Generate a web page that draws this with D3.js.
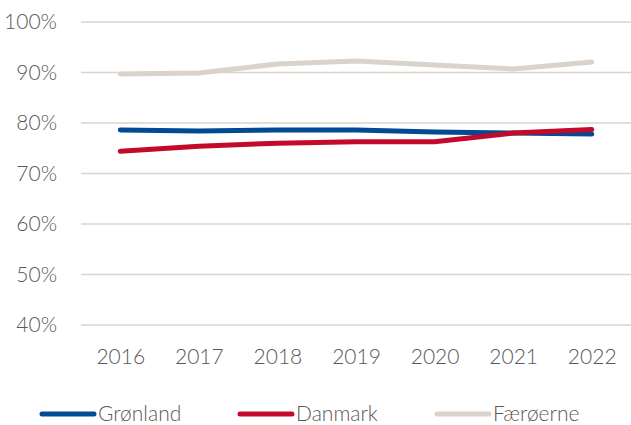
<!DOCTYPE html>
<html>
<head>
<meta charset="utf-8">
<script src="https://cdn.jsdelivr.net/npm/d3@7"></script>
<style>
  body { margin: 0; background: #fff; }
  text { font-family: Lato, "Open Sans", sans-serif; font-weight: 300; fill: #595959; }
</style>
</head>
<body>
<div id="chart"></div>
<script>
// data
var years = ["2016", "2017", "2018", "2019", "2020", "2021", "2022"];
var gronland  = [78.6, 78.4, 78.6, 78.6, 78.2, 78.0, 77.8];
var danmark   = [74.4, 75.4, 76.0, 76.3, 76.3, 78.0, 78.7];
var faeroerne = [89.7, 89.9, 91.7, 92.3, 91.5, 90.7, 92.1];
var yTicks = [40, 50, 60, 70, 80, 90, 100];

var series = [
  {name: "Grønland", values: gronland, color: "#004b93"},
  {name: "Danmark", values: danmark, color: "#c30a2b"},
  {name: "Færøerne", values: faeroerne, color: "#d9d3cb"}
];
// draw order: light line at back
var drawOrder = [series[2], series[0], series[1]];

var W = 631, H = 425;
var margin = {top: 22, right: 0, bottom: 100, left: 81};
var width = W - margin.left - margin.right,
    height = H - margin.top - margin.bottom;

var svg = d3.select("#chart").append("svg")
    .attr("width", W)
    .attr("height", H);
var g = svg.append("g")
    .attr("transform", "translate(" + margin.left + "," + margin.top + ")");

var x = d3.scalePoint()
    .domain(years)
    .range([0, width])
    .padding(0.5);

var y = d3.scaleLinear()
    .domain([40, 100])
    .range([height, 0]);

// gridlines
g.selectAll(".grid")
  .data(yTicks)
  .enter()
  .append("line")
    .attr("x1", 0)
    .attr("x2", width)
    .attr("y1", function(d) { return y(d); })
    .attr("y2", function(d) { return y(d); })
    .attr("stroke", "#d9d4cc")
    .attr("stroke-width", 1.5);

// y axis labels
var yAxis = g.append("g")
  .call(d3.axisLeft(y).tickValues(yTicks).tickSize(0).tickPadding(24).tickFormat(function(d) { return d + "%"; }));
yAxis.select(".domain").remove();
yAxis.selectAll("text").style("font-size", "21px").attr("font-family", null);

// x axis labels
var xAxis = g.append("g")
  .attr("transform", "translate(0," + height + ")")
  .call(d3.axisBottom(x).tickSize(0).tickPadding(24));
xAxis.select(".domain").remove();
xAxis.selectAll("text").style("font-size", "21px").attr("font-family", null);

// lines
var line = d3.line()
  .x(function(d, i) { return x(years[i]); })
  .y(function(d) { return y(d); });

g.selectAll(".series")
  .data(drawOrder)
  .enter()
  .append("path")
    .attr("fill", "none")
    .attr("stroke", function(d) { return d.color; })
    .attr("stroke-width", 5)
    .attr("stroke-linecap", "round")
    .attr("stroke-linejoin", "round")
    .attr("d", function(d) { return line(d.values); });

// legend
var legendX = [40, 238, 435];
var legend = svg.selectAll(".legend")
  .data(series)
  .enter()
  .append("g")
    .attr("transform", function(d, i) { return "translate(" + legendX[i] + ",414)"; });

legend.append("line")
  .attr("x1", 2).attr("x2", 54)
  .attr("y1", 0).attr("y2", 0)
  .attr("stroke", function(d) { return d.color; })
  .attr("stroke-width", 5)
  .attr("stroke-linecap", "round");

legend.append("text")
  .attr("x", 58)
  .attr("y", 0)
  .attr("dy", "0.35em")
  .style("font-size", "21px")
  .text(function(d) { return d.name; });
</script>
</body>
</html>
